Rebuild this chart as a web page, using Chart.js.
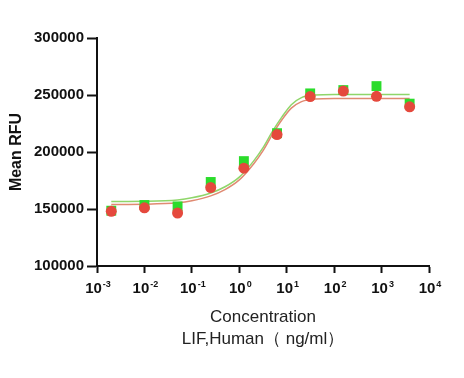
<!DOCTYPE html>
<html>
<head>
<meta charset="utf-8">
<script src="https://cdn.jsdelivr.net/npm/chart.js@4"></script>
<style>
  html, body { margin: 0; padding: 0; background: #fff; }
  #wrap { width: 464px; height: 378px; }
</style>
</head>
<body>
<div id="wrap"><canvas id="chart" width="464" height="378"></canvas></div>
<script>
    // Measured points (5-fold dilution series, ng/ml)
    const concentrations = [0.002, 0.01, 0.05, 0.25, 1.25, 6.25, 31.25, 156.25, 781.25, 3906.25];
    const greenValues = [148500, 153500, 152300, 173700, 192000, 216500, 251400, 254300, 257800, 242400];
    const redValues = [148000, 151000, 146500, 168800, 185800, 215300, 248600, 253400, 248800, 239600];

    // Fitted curves
    const curveConc = [0.002, 0.01, 0.05, 0.1, 0.25, 0.5, 1, 2, 3.2, 5, 8, 12.5, 20, 40, 100, 3906.25];
    const greenCurve = [156600, 156800, 158000, 159800, 164000, 169500, 178000, 192000, 204000, 218000, 231000, 241500, 247500, 250000, 250500, 250500];
    const redCurve = [154000, 154200, 155400, 157200, 161500, 167000, 175500, 189500, 201500, 215500, 228500, 238500, 244000, 246500, 247000, 247000];

    // Axis ticks
    const xDecades = [-3, -2, -1, 0, 1, 2, 3, 4];
    const yTicks = [100000, 150000, 200000, 250000, 300000];

    const FONT = '"Liberation Sans", Arial, sans-serif';
    const toXY = (xs, ys) => xs.map((x, i) => ({ x: x, y: ys[i] }));

    // Draw "10" with a raised exponent under each x tick
    const powerLabels = {
        id: 'powerLabels',
        afterDraw(chart) {
            const ctx = chart.ctx;
            const xScale = chart.scales.x;
            const baseY = xScale.top + 26.5;
            ctx.save();
            ctx.fillStyle = '#111';
            ctx.textBaseline = 'alphabetic';
            ctx.textAlign = 'left';
            xDecades.forEach(function(p) {
                const px = xScale.getPixelForValue(Math.pow(10, p));
                const base = '10';
                const exp = p < 0 ? '-' + Math.abs(p) : String(p);
                ctx.font = 'bold 15px ' + FONT;
                const wBase = ctx.measureText(base).width;
                ctx.font = 'bold 9px ' + FONT;
                const wExp = ctx.measureText(exp).width;
                const start = px - (wBase + 1 + wExp) / 2 + 1;
                ctx.font = 'bold 15px ' + FONT;
                ctx.fillText(base, start, baseY);
                ctx.font = 'bold 9px ' + FONT;
                ctx.fillText(exp, start + wBase + 1, baseY - 5.5);
            });
            ctx.restore();
        }
    };

    new Chart(document.getElementById('chart').getContext('2d'), {
        type: 'scatter',
        data: {
            datasets: [
                {
                    type: 'line',
                    data: toXY(curveConc, greenCurve),
                    borderColor: '#8fd66a',
                    borderWidth: 1.5,
                    pointRadius: 0,
                    cubicInterpolationMode: 'monotone',
                    fill: false,
                    order: 4
                },
                {
                    type: 'line',
                    data: toXY(curveConc, redCurve),
                    borderColor: '#e08a72',
                    borderWidth: 1.5,
                    pointRadius: 0,
                    cubicInterpolationMode: 'monotone',
                    fill: false,
                    order: 3
                },
                {
                    data: toXY(concentrations, greenValues),
                    pointStyle: 'rect',
                    pointRadius: 7,
                    backgroundColor: '#2bdc2b',
                    borderColor: '#2bdc2b',
                    borderWidth: 0,
                    order: 2
                },
                {
                    data: toXY(concentrations, redValues),
                    pointStyle: 'circle',
                    pointRadius: 5.5,
                    backgroundColor: '#e5493d',
                    borderColor: '#e5493d',
                    borderWidth: 0,
                    order: 1
                }
            ]
        },
        options: {
            responsive: false,
            animation: false,
            layout: {
                padding: { left: 0, right: 35, top: 38, bottom: 22 }
            },
            plugins: {
                legend: { display: false },
                tooltip: { enabled: false }
            },
            scales: {
                x: {
                    type: 'logarithmic',
                    min: 0.001,
                    max: 10000,
                    afterBuildTicks: function(scale) {
                        scale.ticks = xDecades.map(p => ({ value: Math.pow(10, p), major: true }));
                    },
                    afterFit: function(scale) {
                        scale.height = 90;
                    },
                    grid: {
                        display: true,
                        drawOnChartArea: false,
                        drawTicks: true,
                        tickLength: 7,
                        tickWidth: 2,
                        color: '#111'
                    },
                    border: { display: true, color: '#111', width: 2 },
                    ticks: { display: false },
                    title: {
                        display: true,
                        text: ['Concentration', 'LIF,Human\uFF08 ng/ml\uFF09'],
                        color: '#222',
                        font: { family: FONT, size: 17, lineHeight: 1.3 },
                        padding: { top: 0, bottom: 6 }
                    }
                },
                y: {
                    min: 100000,
                    max: 300000,
                    afterBuildTicks: function(scale) {
                        scale.ticks = yTicks.map(v => ({ value: v }));
                    },
                    afterFit: function(scale) {
                        scale.width = 97;
                    },
                    grid: {
                        display: true,
                        drawOnChartArea: false,
                        drawTicks: true,
                        tickLength: 10,
                        tickWidth: 2,
                        color: '#111'
                    },
                    border: { display: true, color: '#111', width: 2 },
                    ticks: {
                        color: '#111',
                        padding: 3,
                        font: { family: FONT, size: 15, weight: 'bold' },
                        callback: v => String(v)
                    },
                    title: {
                        display: true,
                        text: 'Mean RFU',
                        color: '#111',
                        font: { family: FONT, size: 16, weight: 'bold' },
                        padding: { top: 7, bottom: 0 }
                    }
                }
            }
        },
        plugins: [powerLabels]
    });
</script>
</body>
</html>
